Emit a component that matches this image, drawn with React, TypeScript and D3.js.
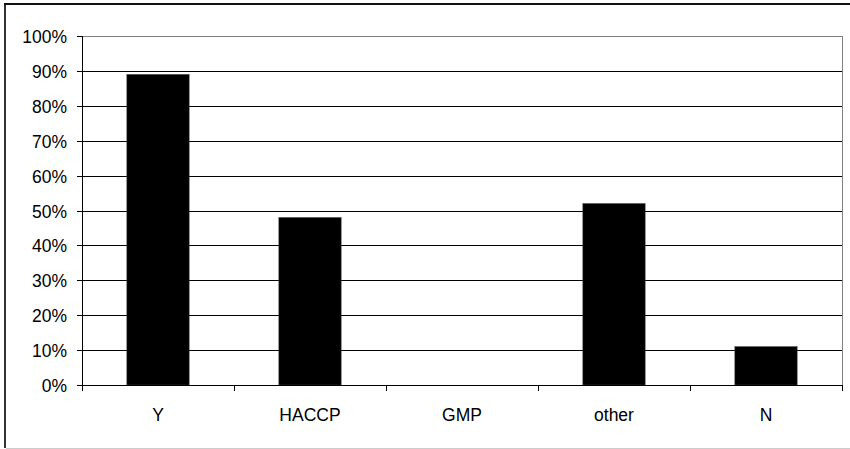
import React from "react";
import * as d3 from "d3";

const categories = ["Y", "HACCP", "GMP", "other", "N"];
const values = [0.89, 0.48, 0, 0.52, 0.11];
const yTicks = [0, 0.1, 0.2, 0.3, 0.4, 0.5, 0.6, 0.7, 0.8, 0.9, 1.0];

const W = 850;
const H = 449;
const plot = { left: 82, right: 842, top: 36, bottom: 385 };
const FONT = "Arial, 'Liberation Sans', sans-serif";
const FS = 17.5;

export default function App() {
  const x = d3
    .scaleBand<string>()
    .domain(categories)
    .range([plot.left, plot.right])
    .paddingInner(0.59)
    .paddingOuter(0.295);
  const band = d3.scaleBand<string>().domain(categories).range([plot.left, plot.right]);
  const y = d3.scaleLinear().domain([0, 1]).range([plot.bottom, plot.top]);
  const fmt = d3.format(".0%");

  return (
    <svg
      width={W}
      height={H}
      style={{ position: "absolute", left: 0, top: 0, background: "#fff" }}
      fontFamily={FONT}
    >
      <rect x={0} y={0} width={W} height={H} fill="#fff" />
      {/* outer frame */}
      <line x1={5} y1={4} x2={5} y2={448} stroke="#333" strokeWidth={2} />
      <line x1={4} y1={4} x2={W} y2={4} stroke="#111" strokeWidth={2} />
      <line x1={6} y1={448.5} x2={W} y2={448.5} stroke="#ccc" strokeWidth={1} />

      {/* gridlines */}
      {yTicks.slice(1, -1).map((t) => (
        <line
          key={t}
          x1={plot.left}
          x2={plot.right}
          y1={Math.round(y(t)) + 0.5}
          y2={Math.round(y(t)) + 0.5}
          stroke="#000"
          strokeWidth={1}
        />
      ))}
      {/* plot area border top/right */}
      <line x1={plot.left} x2={plot.right + 0.5} y1={plot.top + 0.5} y2={plot.top + 0.5} stroke="#808080" />
      <line x1={plot.right + 0.5} x2={plot.right + 0.5} y1={plot.top} y2={plot.bottom} stroke="#808080" />

      {/* bars */}
      {categories.map((c, i) => (
        <rect
          key={c}
          x={x(c)}
          y={y(values[i])}
          width={x.bandwidth()}
          height={plot.bottom - y(values[i])}
          fill="#000"
          stroke="#444"
          strokeWidth={0.5}
        />
      ))}

      {/* y axis */}
      <line x1={plot.left + 0.5} x2={plot.left + 0.5} y1={plot.top} y2={plot.bottom + 1} stroke="#000" />
      {yTicks.map((t) => (
        <g key={t}>
          <line
            x1={plot.left - 5}
            x2={plot.left}
            y1={Math.round(y(t)) + 0.5}
            y2={Math.round(y(t)) + 0.5}
            stroke="#000"
          />
          <text x={67} y={y(t) + 7} textAnchor="end" fontSize={FS} fill="#000">
            {fmt(t)}
          </text>
        </g>
      ))}

      {/* x axis */}
      <line x1={plot.left} x2={plot.right + 1} y1={plot.bottom + 0.5} y2={plot.bottom + 0.5} stroke="#000" />
      {d3.range(categories.length + 1).map((i) => {
        const xp = Math.round(plot.left + i * band.bandwidth()) + 0.5;
        return <line key={i} x1={xp} x2={xp} y1={plot.bottom} y2={plot.bottom + 6} stroke="#000" />;
      })}
      {categories.map((c) => (
        <text
          key={c}
          x={(band(c) ?? 0) + band.bandwidth() / 2}
          y={421}
          textAnchor="middle"
          fontSize={FS}
          fill="#000"
        >
          {c}
        </text>
      ))}
    </svg>
  );
}
